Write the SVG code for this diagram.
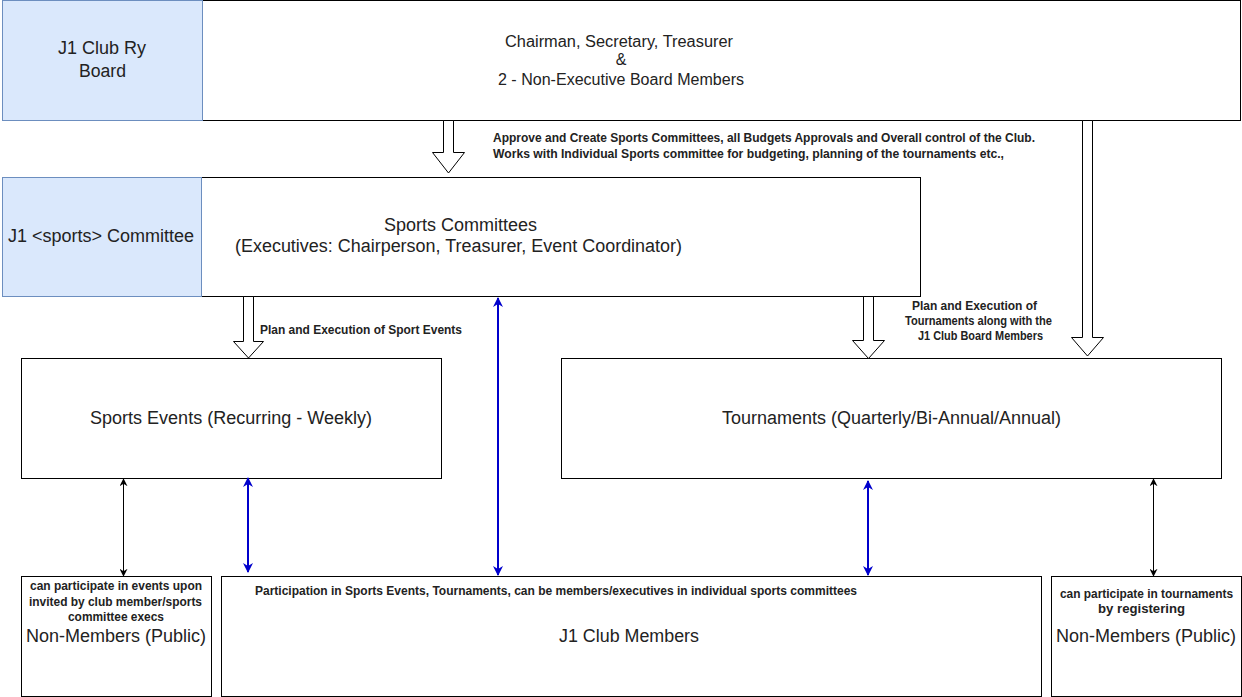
<svg xmlns="http://www.w3.org/2000/svg" width="1242" height="697" viewBox="0 0 1242 697">
<style>
text{font-family:"Liberation Sans",Arial,sans-serif;fill:#222}
.lg{font-size:18px;text-anchor:middle}
.md{font-size:16px;text-anchor:middle}
.sb{font-size:12px;font-weight:bold}
.sbc{font-size:12px;font-weight:bold;text-anchor:middle}
.box{fill:#fff;stroke:#000;stroke-width:1}
.lbl{fill:#dae8fc;stroke:#6c8ebf;stroke-width:1}
.blk{fill:#fff;stroke:#000;stroke-width:1}
.blue{stroke:#0000cc;stroke-width:2;fill:none}
.thin{stroke:#000;stroke-width:1;fill:none}
</style>
<defs>
<marker id="ab" viewBox="0 0 10 10" refX="9" refY="5" markerWidth="5" markerHeight="5" orient="auto-start-reverse" markerUnits="strokeWidth">
<path d="M0,0 L10,5 L0,10 L3,5 Z" fill="#0000cc"/>
</marker>
<marker id="ak" viewBox="0 0 10 10" refX="9" refY="5" markerWidth="8" markerHeight="8" orient="auto-start-reverse" markerUnits="strokeWidth">
<path d="M0,0 L10,5 L0,10 L3,5 Z" fill="#000"/>
</marker>
</defs>
<rect width="1242" height="697" fill="#fff"/>

<g id="board">
<rect class="box" x="202.5" y="0.5" width="1038" height="120"/>
<text class="md" x="619" y="47" textLength="228" lengthAdjust="spacingAndGlyphs">Chairman, Secretary,  Treasurer</text>
<text class="md" x="621" y="65">&amp;</text>
<text class="md" x="621" y="85" textLength="246" lengthAdjust="spacingAndGlyphs">2 - Non-Executive Board Members</text>
</g>
<g id="board-label">
<rect class="lbl" x="2.5" y="0.5" width="200" height="120"/>
<text class="lg" x="102" y="54" textLength="88" lengthAdjust="spacingAndGlyphs">J1 Club Ry</text>
<text class="lg" x="102.5" y="77" textLength="47" lengthAdjust="spacingAndGlyphs">Board</text>
</g>

<g id="committee">
<rect class="box" x="201.5" y="177.5" width="719" height="119"/>
<text class="lg" x="460.5" y="231" textLength="153" lengthAdjust="spacingAndGlyphs">Sports Committees</text>
<text class="lg" x="458.5" y="252" textLength="447" lengthAdjust="spacingAndGlyphs">(Executives: Chairperson, Treasurer, Event Coordinator)</text>
</g>
<g id="committee-label">
<rect class="lbl" x="2.5" y="177.5" width="199" height="119"/>
<text class="lg" x="101" y="242" textLength="186" lengthAdjust="spacingAndGlyphs">J1 &lt;sports&gt; Committee</text>
</g>

<g id="sports-events">
<rect class="box" x="21.5" y="358.5" width="420" height="120"/>
<text class="lg" x="231" y="424" textLength="282" lengthAdjust="spacingAndGlyphs">Sports Events (Recurring - Weekly)</text>
</g>

<g id="tournaments">
<rect class="box" x="561.5" y="358.5" width="660" height="120"/>
<text class="lg" x="891.5" y="424" textLength="339" lengthAdjust="spacingAndGlyphs">Tournaments (Quarterly/Bi-Annual/Annual)</text>
</g>

<g id="nonmembers-left">
<rect class="box" x="21.5" y="576.5" width="190" height="120"/>
<text class="sbc" x="116" y="590" textLength="172" lengthAdjust="spacingAndGlyphs">can participate in events upon</text>
<text class="sbc" x="115.5" y="606" textLength="173" lengthAdjust="spacingAndGlyphs">invited by club member/sports</text>
<text class="sbc" x="116" y="621" textLength="96" lengthAdjust="spacingAndGlyphs">committee execs</text>
<text class="lg" x="116" y="642" textLength="180" lengthAdjust="spacingAndGlyphs">Non-Members (Public)</text>
</g>

<g id="club-members">
<rect class="box" x="221.5" y="576.5" width="820" height="120"/>
<text class="sb" x="255" y="595" textLength="602" lengthAdjust="spacingAndGlyphs">Participation in Sports Events, Tournaments, can be members/executives in individual sports committees</text>
<text class="lg" x="629" y="642" textLength="140" lengthAdjust="spacingAndGlyphs">J1 Club Members</text>
</g>

<g id="nonmembers-right">
<rect class="box" x="1051.5" y="576.5" width="190" height="120"/>
<text class="sbc" x="1146.5" y="598" textLength="173" lengthAdjust="spacingAndGlyphs">can participate in tournaments</text>
<text class="sbc" x="1141.5" y="613" textLength="87" lengthAdjust="spacingAndGlyphs">by registering</text>
<text class="lg" x="1146" y="642" textLength="180" lengthAdjust="spacingAndGlyphs">Non-Members (Public)</text>
</g>

<g id="connectors">
<path class="blk" d="M443.5,120.5 L453.5,120.5 L453.5,152.5 L464.5,152.5 L448.5,173 L432.5,152.5 L443.5,152.5 Z"/>
<path class="blk" d="M1082.5,120.5 L1092.5,120.5 L1092.5,337.5 L1103.5,337.5 L1087.5,356 L1071.5,337.5 L1082.5,337.5 Z"/>
<path class="blk" d="M243.5,296.5 L253.5,296.5 L253.5,341.5 L263.5,341.5 L248.5,358 L233.5,341.5 L243.5,341.5 Z"/>
<path class="blk" d="M863.5,296.5 L873.5,296.5 L873.5,340.5 L884.5,340.5 L868.5,358.5 L852.5,340.5 L863.5,340.5 Z"/>
<line class="thin" x1="123.5" y1="479" x2="123.5" y2="576" marker-start="url(#ak)" marker-end="url(#ak)"/>
<line class="blue" x1="248" y1="478" x2="248" y2="572" marker-start="url(#ab)" marker-end="url(#ab)"/>
<line class="blue" x1="498" y1="298" x2="498" y2="575" marker-start="url(#ab)" marker-end="url(#ab)"/>
<line class="blue" x1="868" y1="481" x2="868" y2="575" marker-start="url(#ab)" marker-end="url(#ab)"/>
<line class="thin" x1="1153.5" y1="479" x2="1153.5" y2="576" marker-start="url(#ak)" marker-end="url(#ak)"/>
<text class="sb" x="493" y="142" textLength="542" lengthAdjust="spacingAndGlyphs">Approve and Create Sports Committees, all Budgets Approvals and Overall control of the Club.</text>
<text class="sb" x="493" y="158" textLength="511" lengthAdjust="spacingAndGlyphs">Works with Individual Sports committee for budgeting, planning of the tournaments etc.,</text>
<text class="sb" x="260" y="334" textLength="202" lengthAdjust="spacingAndGlyphs">Plan and Execution of Sport Events</text>
<text class="sbc" x="974.5" y="310" textLength="125" lengthAdjust="spacingAndGlyphs">Plan and Execution of</text>
<text class="sbc" x="978.5" y="325" textLength="147" lengthAdjust="spacingAndGlyphs">Tournaments along with the</text>
<text class="sbc" x="980.5" y="340" textLength="125" lengthAdjust="spacingAndGlyphs">J1 Club Board Members</text>
</g>
</svg>
